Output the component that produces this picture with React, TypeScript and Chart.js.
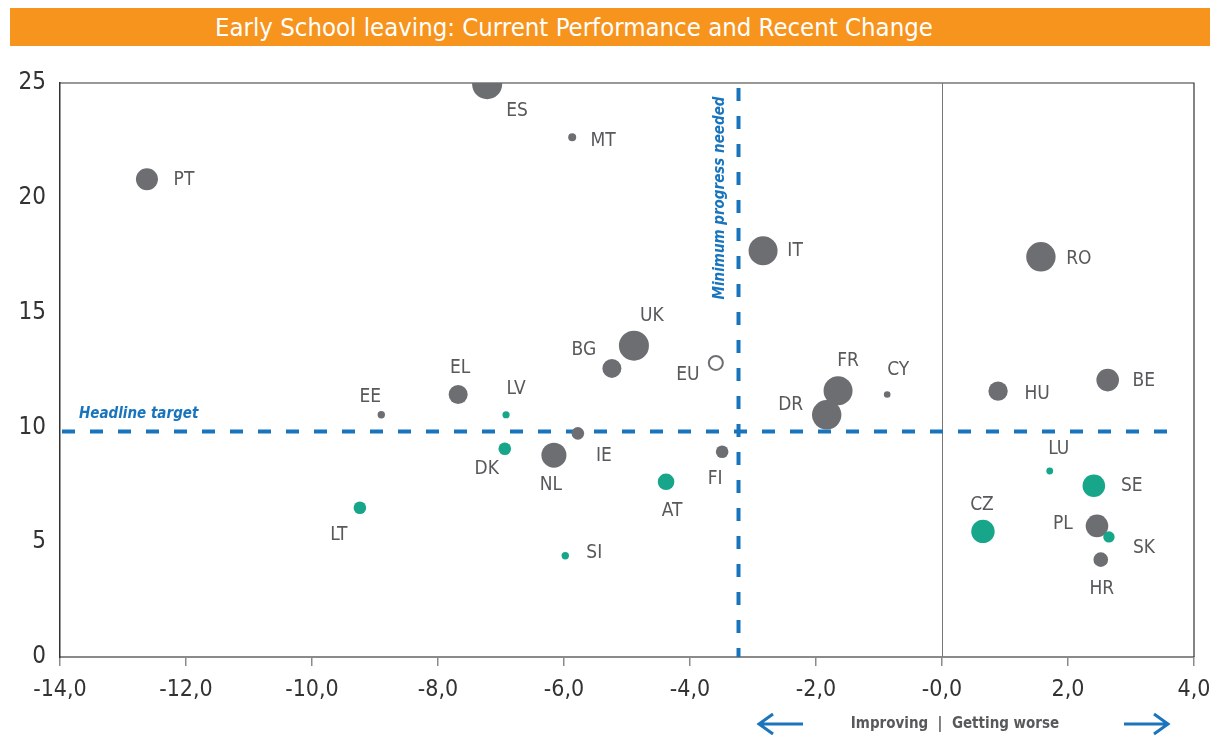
import React, { useEffect, useRef } from "react";
import { Chart, registerables } from "chart.js";

Chart.register(...registerables);

// ---- data ----
const countries = ["ES","MT","PT","IT","RO","UK","BG","EU","EL","EE","LV","FR","DR","CY","HU","BE","IE","FI","DK","NL","AT","LT","SI","LU","SE","CZ","PL","SK","HR"];
const recentChange = [-7.22,-5.87,-12.62,-2.84,1.57,-4.89,-5.24,-3.59,-7.68,-8.90,-6.92,-1.65,-1.83,-0.87,0.89,2.63,-5.78,-3.49,-6.94,-6.16,-4.38,-9.24,-5.98,1.71,2.41,0.65,2.46,2.65,2.52];
const currentLevel = [24.95,22.64,20.81,17.69,17.43,13.56,12.57,12.81,11.43,10.55,10.55,11.60,10.55,11.43,11.58,12.06,9.74,8.94,9.07,8.79,7.63,6.50,4.41,8.10,7.46,5.47,5.71,5.23,4.24];
const bubbleSize = [15,4,11,14.5,14.7,15,9.5,7,9.5,3.7,3.6,14.5,14.7,3.3,9.7,11.3,6.3,6.3,6.3,12.5,8.3,6.3,3.7,3.4,11.3,11.7,11.3,5.7,7.3];
// group: g = grey (above target), t = teal (below target), eu = EU average
const group = ["g","g","g","g","g","g","g","eu","g","g","t","g","g","g","g","g","g","g","t","g","t","t","t","t","t","t","g","t","g"];
const xTickLabels = ["-14,0","-12,0","-10,0","-8,0","-6,0","-4,0","-2,0","-0,0","2,0","4,0"];
const yTickLabels = ["0","5","10","15","20","25"];
const headlineTarget = 9.82;
const minimumProgress = -3.23;

// label placement relative to each bubble (pixels)
const labelDx = [30,31,37,32,38,18,-28,-28,2,-11,10,10,-36,11,39,36,26,-7,-18,-3,6,-21,29,9,38,-1,-34,35,1];
const labelDy = [27,4,1,0,2,-30,-18,12,-27,-18,-26,-30,-10,-25,3,1,23,27,20,30,29,27,-3,-22,0,-26,-2,11,29];

const GREY = "#6d6e71";
const TEAL = "#17a68a";
const BLUE = "#1874bd";
const TEXT = "#58595b";
const FONT = "'Liberation Sans Narrow', 'DejaVu Sans Condensed', 'Roboto', sans-serif";

const overlay = {
  id: "overlay",
  beforeDatasetsDraw(chart: any) {
    const { ctx, chartArea: a, scales } = chart;
    const x = scales.x, y = scales.y;
    ctx.save();
    // top and right border
    ctx.strokeStyle = "#333";
    ctx.lineWidth = 1.2;
    ctx.beginPath();
    ctx.moveTo(a.left, a.top);
    ctx.lineTo(a.right, a.top);
    ctx.lineTo(a.right, a.bottom);
    ctx.stroke();
    // zero line
    const x0 = Math.round(x.getPixelForValue(0)) + 0.5;
    ctx.strokeStyle = "#777";
    ctx.lineWidth = 1;
    ctx.beginPath();
    ctx.moveTo(x0, a.top);
    ctx.lineTo(x0, a.bottom);
    ctx.stroke();
    // dashed lines
    ctx.strokeStyle = BLUE;
    ctx.lineWidth = 4;
    ctx.setLineDash([13, 15]);
    const yt = y.getPixelForValue(headlineTarget);
    ctx.beginPath();
    ctx.moveTo(a.left + 2, yt);
    ctx.lineTo(a.right - 18, yt);
    ctx.stroke();
    const xm = x.getPixelForValue(minimumProgress);
    ctx.beginPath();
    ctx.moveTo(xm, a.top + 5);
    ctx.lineTo(xm, a.bottom);
    ctx.stroke();
    ctx.setLineDash([]);
    // annotation texts
    ctx.fillStyle = BLUE;
    ctx.font = `italic bold 15px ${FONT}`;
    ctx.textAlign = "left";
    ctx.textBaseline = "alphabetic";
    ctx.fillText("Headline target", a.left + 19, yt - 14);
    ctx.save();
    ctx.translate(xm - 15, a.top + 115);
    ctx.rotate(-Math.PI / 2);
    ctx.textAlign = "center";
    ctx.fillText("Minimum progress needed", 0, 0);
    ctx.restore();
    ctx.restore();
  },
  afterDatasetsDraw(chart: any) {
    const { ctx, scales } = chart;
    const x = scales.x, y = scales.y;
    ctx.save();
    ctx.fillStyle = TEXT;
    ctx.font = `19px ${FONT}`;
    ctx.textAlign = "center";
    ctx.textBaseline = "middle";
    countries.forEach((c, i) => {
      const px = x.getPixelForValue(recentChange[i]);
      const py = y.getPixelForValue(currentLevel[i]);
      ctx.fillText(c, px + labelDx[i], py + labelDy[i]);
    });
    // bottom legend
    ctx.font = `bold 15px ${FONT}`;
    ctx.fillText("Improving  |  Getting worse", 955, 724);
    ctx.strokeStyle = "#1a75bc";
    ctx.lineWidth = 3;
    ctx.beginPath();
    ctx.moveTo(759, 724); ctx.lineTo(803, 724);
    ctx.moveTo(773, 714); ctx.lineTo(759, 724); ctx.lineTo(773, 734);
    ctx.moveTo(1124, 724); ctx.lineTo(1168, 724);
    ctx.moveTo(1154, 714); ctx.lineTo(1168, 724); ctx.lineTo(1154, 734);
    ctx.stroke();
    ctx.restore();
  },
};

export default function App() {
  const ref = useRef<HTMLCanvasElement>(null);
  useEffect(() => {
    if (!ref.current) return;
    const points = countries.map((c, i) => ({ x: recentChange[i], y: currentLevel[i], r: bubbleSize[i] }));
    const chart = new Chart(ref.current, {
      type: "bubble",
      data: {
        datasets: [
          {
            data: points,
            backgroundColor: group.map((g) => (g === "t" ? TEAL : g === "eu" ? "#ffffff" : GREY)),
            borderColor: group.map((g) => (g === "t" ? TEAL : GREY)),
            borderWidth: group.map((g) => (g === "eu" ? 2 : 0)),
          },
        ],
      },
      options: {
        animation: false,
        responsive: false,
        events: [],
        layout: { padding: { left: 0, top: 83, right: 23, bottom: 0 } },
        plugins: { legend: { display: false }, tooltip: { enabled: false }, title: { display: false } },
        scales: {
          x: {
            type: "linear",
            min: -14,
            max: 4,
            afterFit: (s: any) => { s.height = 82; s.paddingLeft = 0; s.paddingRight = 0; },
            afterBuildTicks: (s: any) => { s.ticks = xTickLabels.map((_, i) => ({ value: -14 + 2 * i })); },
            ticks: {
              stepSize: 2,
              color: "#333",
              font: { family: FONT, size: 23 },
              padding: 10,
              maxRotation: 0,
              callback: (_v: any, i: number) => xTickLabels[i],
            },
            grid: { display: true, drawOnChartArea: false, drawTicks: true, tickLength: 9, color: "#8a8a8a", lineWidth: 1.5 },
            border: { display: true, color: "#8a8a8a", width: 2 },
          },
          y: {
            type: "linear",
            min: 0,
            max: 25,
            afterFit: (s: any) => { s.width = 60; s.paddingTop = 0; s.paddingBottom = 0; },
            afterBuildTicks: (s: any) => { s.ticks = yTickLabels.map((_, i) => ({ value: 5 * i })); },
            ticks: {
              stepSize: 5,
              color: "#333",
              font: { family: FONT, size: 24 },
              padding: 14,
              callback: (_v: any, i: number) => yTickLabels[i],
            },
            grid: { display: false, drawTicks: false },
            border: { display: true, color: "#333", width: 1.5 },
          },
        },
      },
      plugins: [overlay],
    });
    return () => chart.destroy();
  }, []);

  return (
    <div style={{ position: "fixed", left: 0, top: 0, width: 1217, height: 739, background: "#fff" }}>
      <canvas ref={ref} width={1217} height={739} style={{ position: "absolute", left: 0, top: 0 }} />
      <div
        style={{
          position: "absolute",
          left: 10,
          top: 8,
          width: 1200,
          height: 38,
          background: "#f7941d",
          color: "#fff",
          fontFamily: FONT,
          fontSize: 25.5,
          lineHeight: "38px",
          paddingLeft: 205,
          boxSizing: "border-box",
          whiteSpace: "nowrap",
        }}
      >
        Early School leaving: Current Performance and Recent Change
      </div>
    </div>
  );
}
